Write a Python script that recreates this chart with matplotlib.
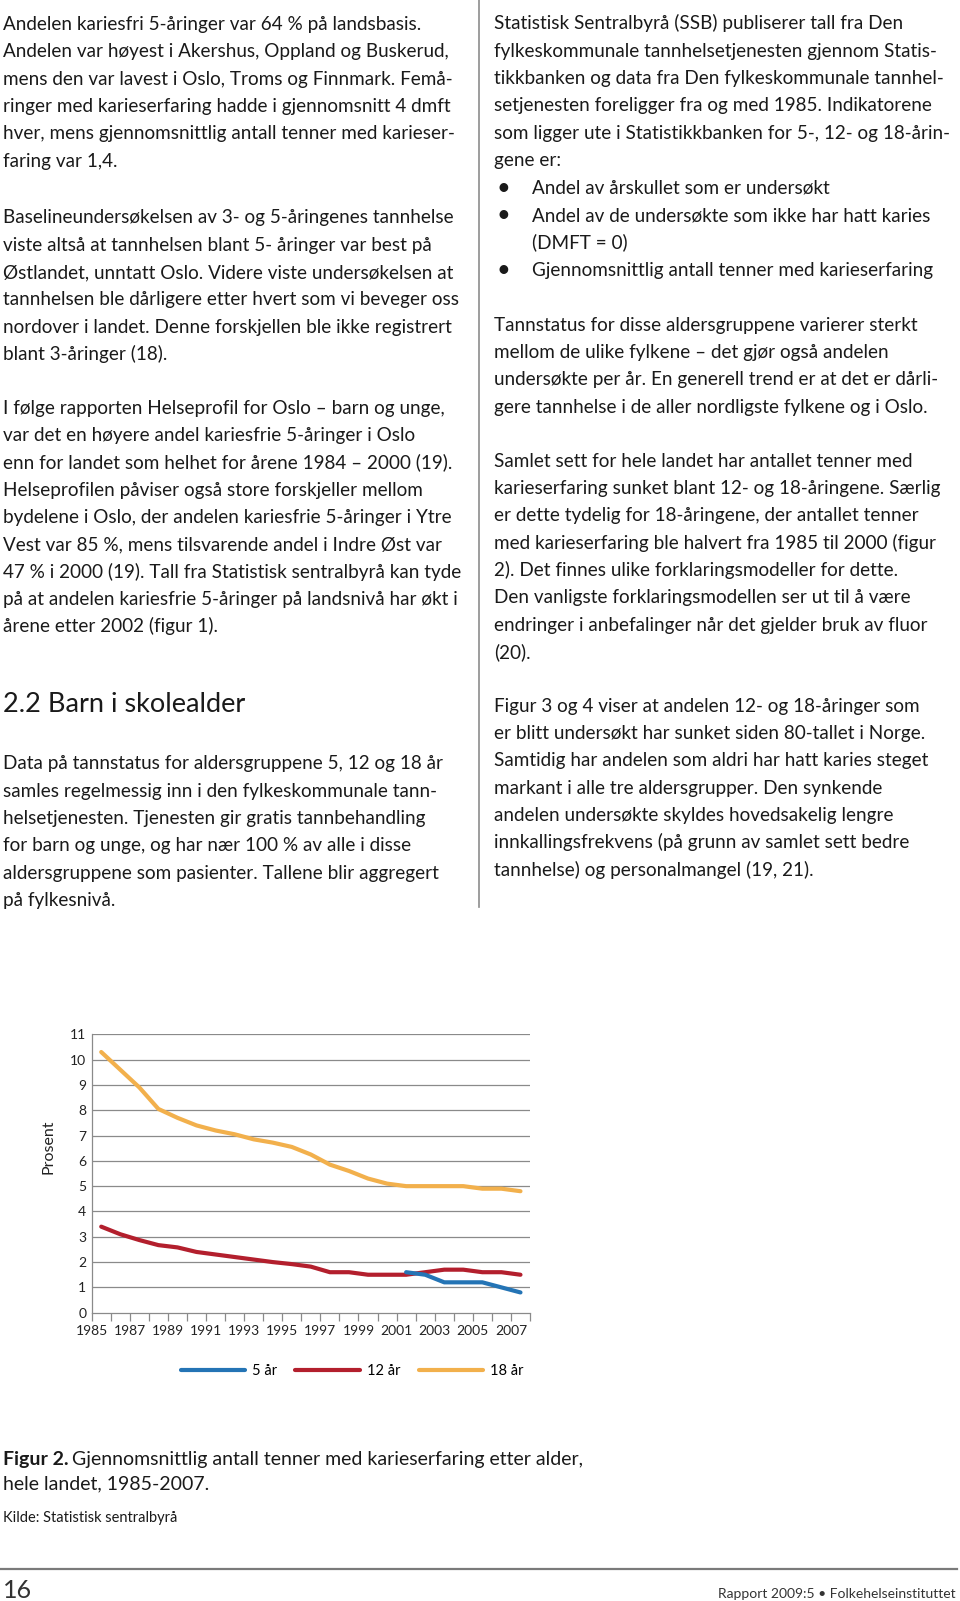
import matplotlib
matplotlib.use("Agg")
import matplotlib.pyplot as plt
from matplotlib.lines import Line2D

# ---------------- data ----------------
years = list(range(1985, 2008))
age18 = [10.3, 9.6, 8.9, 8.05, 7.7, 7.4, 7.2, 7.05, 6.85, 6.72, 6.55, 6.25,
         5.85, 5.6, 5.3, 5.1, 5.0, 5.0, 5.0, 5.0, 4.9, 4.9, 4.8]
age12 = [3.4, 3.1, 2.87, 2.67, 2.58, 2.4, 2.3, 2.2, 2.1, 2.0, 1.92, 1.82,
         1.6, 1.6, 1.5, 1.5, 1.5, 1.6, 1.7, 1.7, 1.6, 1.6, 1.5]
years5 = list(range(2001, 2008))
age5 = [1.6, 1.5, 1.2, 1.2, 1.2, 1.0, 0.8]
tick_years = list(range(1985, 2008, 2))
yticks = list(range(0, 12))
series_labels = ["5 år", "12 år", "18 år"]
series_colors = ["#2474B5", "#B31F2D", "#F2B04C"]

# ---------------- page text ----------------
left_p1 = [
    "Andelen kariesfri 5-åringer var 64 % på landsbasis.",
    "Andelen var høyest i Akershus, Oppland og Buskerud,",
    "mens den var lavest i Oslo, Troms og Finnmark. Femå-",
    "ringer med karieserfaring hadde i gjennomsnitt 4 dmft",
    "hver, mens gjennomsnittlig antall tenner med karieser-",
    "faring var 1,4.",
]
left_p2 = [
    "Baselineundersøkelsen av 3- og 5-åringenes tannhelse",
    "viste altså at tannhelsen blant 5- åringer var best på",
    "Østlandet, unntatt Oslo. Videre viste undersøkelsen at",
    "tannhelsen ble dårligere etter hvert som vi beveger oss",
    "nordover i landet. Denne forskjellen ble ikke registrert",
    "blant 3-åringer (18).",
]
left_p3 = [
    "I følge rapporten Helseprofil for Oslo – barn og unge,",
    "var det en høyere andel kariesfrie 5-åringer i Oslo",
    "enn for landet som helhet for årene 1984 – 2000 (19).",
    "Helseprofilen påviser også store forskjeller mellom",
    "bydelene i Oslo, der andelen kariesfrie 5-åringer i Ytre",
    "Vest var 85 %, mens tilsvarende andel i Indre Øst var",
    "47 % i 2000 (19). Tall fra Statistisk sentralbyrå kan tyde",
    "på at andelen kariesfrie 5-åringer på landsnivå har økt i",
    "årene etter 2002 (figur 1).",
]
heading = "2.2 Barn i skolealder"
left_p4 = [
    "Data på tannstatus for aldersgruppene 5, 12 og 18 år",
    "samles regelmessig inn i den fylkeskommunale tann-",
    "helsetjenesten. Tjenesten gir gratis tannbehandling",
    "for barn og unge, og har nær 100 % av alle i disse",
    "aldersgruppene som pasienter. Tallene blir aggregert",
    "på fylkesnivå.",
]
right_p1 = [
    "Statistisk Sentralbyrå (SSB) publiserer tall fra Den",
    "fylkeskommunale tannhelsetjenesten gjennom Statis-",
    "tikkbanken og data fra Den fylkeskommunale tannhel-",
    "setjenesten foreligger fra og med 1985. Indikatorene",
    "som ligger ute i Statistikkbanken for 5-, 12- og 18-årin-",
    "gene er:",
]
bullets = [
    ("•", "Andel av årskullet som er undersøkt"),
    ("•", "Andel av de undersøkte som ikke har hatt karies"),
    ("", "(DMFT = 0)"),
    ("•", "Gjennomsnittlig antall tenner med karieserfaring"),
]
right_p2 = [
    "Tannstatus for disse aldersgruppene varierer sterkt",
    "mellom de ulike fylkene – det gjør også andelen",
    "undersøkte per år. En generell trend er at det er dårli-",
    "gere tannhelse i de aller nordligste fylkene og i Oslo.",
]
right_p3 = [
    "Samlet sett for hele landet har antallet tenner med",
    "karieserfaring sunket blant 12- og 18-åringene. Særlig",
    "er dette tydelig for 18-åringene, der antallet tenner",
    "med karieserfaring ble halvert fra 1985 til 2000 (figur",
    "2). Det finnes ulike forklaringsmodeller for dette.",
    "Den vanligste forklaringsmodellen ser ut til å være",
    "endringer i anbefalinger når det gjelder bruk av fluor",
    "(20).",
]
right_p4 = [
    "Figur 3 og 4 viser at andelen 12- og 18-åringer som",
    "er blitt undersøkt har sunket siden 80-tallet i Norge.",
    "Samtidig har andelen som aldri har hatt karies steget",
    "markant i alle tre aldersgrupper. Den synkende",
    "andelen undersøkte skyldes hovedsakelig lengre",
    "innkallingsfrekvens (på grunn av samlet sett bedre",
    "tannhelse) og personalmangel (19, 21).",
]

W, H = 960, 1601
fig = plt.figure(figsize=(W / 100, H / 100), dpi=100)
fig.patch.set_facecolor("white")

BODY = ["Lato", "DejaVu Sans"]
BODY_SIZE = 13.6
LS = 27.3
TXT = "#1a1a1a"


def fx(x):
    return x / W


def fy(y):
    return 1 - y / H


def para(lines, x, y0, size=BODY_SIZE, spacing=LS, **kw):
    for i, line in enumerate(lines):
        fig.text(fx(x), fy(y0 + i * spacing), line, fontsize=size,
                 family=BODY, color=TXT, va="baseline", ha="left", **kw)


# left column
para(left_p1, 3, 30)
para(left_p2, 3, 223.3)
para(left_p3, 3, 414)
fig.text(fx(3), fy(711.7), heading, fontsize=19.5, family=BODY,
         color=TXT, va="baseline")
para(left_p4, 3, 769.3)

# divider
fig.add_artist(Line2D([fx(479), fx(479)], [fy(0), fy(907)], color="#8c8c8c",
                      lw=1.2, transform=fig.transFigure))

# right column
para(right_p1, 494, 29.3)
for i, (b, t) in enumerate(bullets):
    yb = 29.3 + (6 + i) * 27.4
    if b:
        fig.text(fx(496), fy(yb + 1), b, fontsize=17, family=BODY, color=TXT,
                 va="baseline")
    fig.text(fx(532), fy(yb), t, fontsize=BODY_SIZE, family=BODY, color=TXT,
             va="baseline")
para(right_p2, 494, 330.7)
para(right_p3, 494, 466.7)
para(right_p4, 494, 711.7)

# ---------------- chart ----------------
ax_l, ax_r, ax_t, ax_b = 91.7, 530, 1034.3, 1312.7
ax = fig.add_axes([fx(ax_l), fy(ax_b), (ax_r - ax_l) / W, (ax_b - ax_t) / H])
grid_c = "#8a8a8a"

xk = [y - 1985 + 0.5 for y in years]
xk5 = [y - 1985 + 0.5 for y in years5]
l5, = ax.plot(xk5, age5, color=series_colors[0], lw=3.0, solid_capstyle="round",
              solid_joinstyle="round", zorder=4)
l12, = ax.plot(xk, age12, color=series_colors[1], lw=3.0, solid_capstyle="round",
               solid_joinstyle="round", zorder=3)
l18, = ax.plot(xk, age18, color=series_colors[2], lw=3.0, solid_capstyle="round",
               solid_joinstyle="round", zorder=3)

ax.set_xlim(0, len(years))
ax.set_ylim(0, 11)
for v in yticks[1:]:
    ax.axhline(v, color=grid_c, lw=0.9, zorder=1)
ax.set_yticks(yticks)
ax.set_yticklabels([str(v) for v in yticks], fontsize=10, family=BODY,
                   color="#222222")
ax.tick_params(axis="y", length=0, pad=4)
ax.set_xticks([y - 1985 for y in tick_years])
ax.set_xticklabels([str(y) for y in tick_years], fontsize=10, family=BODY,
                   color="#222222")
ax.set_xticks(list(range(0, len(years) + 1)), minor=True)
ax.tick_params(axis="x", which="both", direction="out", length=6,
               width=0.9, color=grid_c, pad=3)
for s in ("top", "right"):
    ax.spines[s].set_visible(False)
for s in ("left", "bottom"):
    ax.spines[s].set_color(grid_c)
    ax.spines[s].set_linewidth(0.9)
ax.set_facecolor("white")

fig.text(fx(49), fy(1147), "Prosent", rotation=90, fontsize=11.5,
         family=BODY, color="#222222", va="center", ha="center")

fig.legend([l5, l12, l18], series_labels, loc="center",
           bbox_to_anchor=(fx(352), fy(1371)), ncol=3, frameon=False,
           prop={"family": BODY, "size": 10.5}, handlelength=4.4,
           handletextpad=0.5, columnspacing=1.25)

# caption
fig.text(fx(3), fy(1465), "Figur 2.", fontsize=14, family=BODY,
         weight="bold", color=TXT, va="baseline")
fig.text(fx(72), fy(1465), "Gjennomsnittlig antall tenner med karieserfaring etter alder,",
         fontsize=14, family=BODY, color=TXT, va="baseline")
fig.text(fx(3), fy(1489.3), "hele landet, 1985-2007.", fontsize=14,
         family=BODY, color=TXT, va="baseline")
fig.text(fx(3), fy(1521.7), "Kilde: Statistisk sentralbyrå", fontsize=10.5,
         family=BODY, color=TXT, va="baseline")

# footer
fig.add_artist(Line2D([fx(0), fx(957)], [fy(1569), fy(1569)], color="#7a7a7a",
                      lw=1.6, transform=fig.transFigure))
fig.text(fx(3), fy(1598), "16", fontsize=18, family=BODY,
         color="#333333", va="baseline")
fig.text(fx(956), fy(1598), "Rapport 2009:5 • Folkehelseinstituttet",
         fontsize=10, family=BODY, color="#333333",
         va="baseline", ha="right")

fig.savefig("out.png", dpi=100, facecolor="white")
